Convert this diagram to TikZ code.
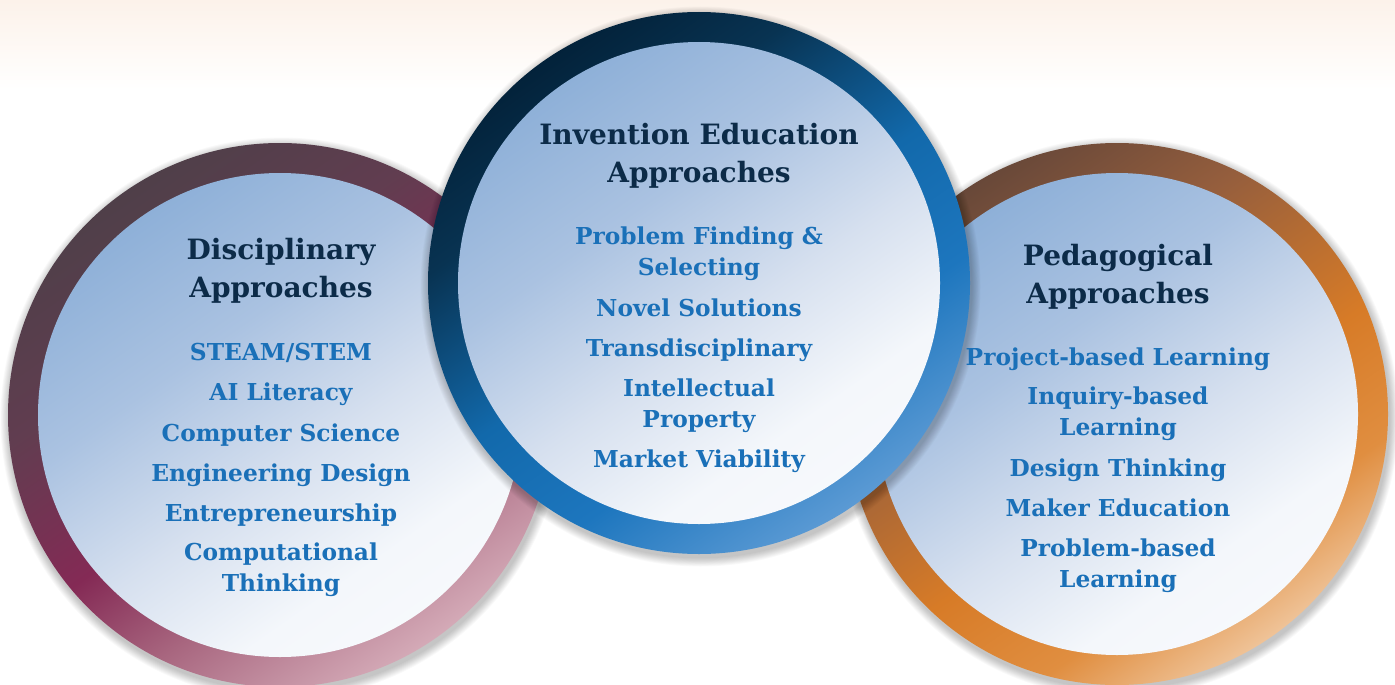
\documentclass[tikz,border=0pt]{standalone}
\usepackage{fontspec}
\setmainfont{DejaVu Serif}

% palette
\definecolor{titlenavy}{HTML}{0C2B48}
\definecolor{itemblue}{HTML}{1A70B8}
\definecolor{haze}{HTML}{FCF2EA}

\definecolor{dA}{HTML}{8AADD7}\definecolor{dB}{HTML}{8EB0D8}\definecolor{dC}{HTML}{AAC2E1}
\definecolor{dD}{HTML}{D6E0EF}\definecolor{dE}{HTML}{F4F7FB}
\definecolor{pA}{HTML}{4C3E48}\definecolor{pB}{HTML}{4F3F49}\definecolor{pC}{HTML}{613D50}
\definecolor{pD}{HTML}{842A55}\definecolor{pE}{HTML}{A8667F}\definecolor{pF}{HTML}{D4AAB7}
\definecolor{bA}{HTML}{03223A}\definecolor{bB}{HTML}{083352}\definecolor{bC}{HTML}{1269AB}
\definecolor{bD}{HTML}{1D76BE}\definecolor{bE}{HTML}{5B9AD4}
\definecolor{aA}{HTML}{684839}\definecolor{aB}{HTML}{955E3D}\definecolor{aC}{HTML}{D77B27}
\definecolor{aD}{HTML}{E08E40}\definecolor{aE}{HTML}{EFC398}

% ring and disc gradients (0bp = upper left, 100bp = lower right)
\pgfdeclarehorizontalshading{discfill}{100bp}{
  color(0bp)=(dA); color(25bp)=(dB); color(40bp)=(dC);
  color(55bp)=(dD); color(68bp)=(dE); color(100bp)=(white)}
\pgfdeclarehorizontalshading{plumring}{100bp}{
  color(0bp)=(pA); color(25bp)=(pB); color(38bp)=(pC);
  color(52bp)=(pD); color(62bp)=(pE); color(75bp)=(pF); color(100bp)=(pF)}
\pgfdeclarehorizontalshading{bluering}{100bp}{
  color(0bp)=(bA); color(25bp)=(bA); color(35bp)=(bB);
  color(50bp)=(bC); color(62bp)=(bD); color(75bp)=(bE); color(100bp)=(bE)}
\pgfdeclarehorizontalshading{amberring}{100bp}{
  color(0bp)=(aA); color(25bp)=(aA); color(38bp)=(aB);
  color(55bp)=(aC); color(66bp)=(aD); color(75bp)=(aE); color(100bp)=(aE)}

\tikzset{
  ttl/.style={font=\fontsize{28}{38}\selectfont\bfseries, text=titlenavy,
              align=center, anchor=base, inner sep=0pt},
  itm/.style={font=\fontsize{23.3}{31}\selectfont\bfseries, text=itemblue,
              align=center, anchor=base, inner sep=0pt},
  ringshade/.style={shading=#1, shading angle=-55},
  discshade/.style={shading=discfill, shading angle=-55},
}

% soft shadow, ring and disc of one circle: centre x, centre y, outer radius, ring shading
\newcommand\ringdisc[4]{%
  \foreach \k in {1,...,10}
    \fill[black, opacity=0.022] ({#1+1.5},{#2+3.5}) circle ({#3+\k*0.9});
  \shade[ringshade=#4] (#1,#2) circle (#3);
  \shade[discshade] (#1,#2) circle ({#3-30});
}

\begin{document}
\begin{tikzpicture}[x=1pt,y=-1pt]
\useasboundingbox (0,0) rectangle (1395,685);
\clip (0,0) rectangle (1395,685);
\fill[white] (0,0) rectangle (1395,685);
\shade[top color=haze, bottom color=white] (0,0) rectangle (1395,90);

% three overlapping circles, the middle one on top
\ringdisc{280}{415}{272}{plumring}
\ringdisc{1117}{414}{271}{amberring}
\ringdisc{699}{283}{271}{bluering}

% Disciplinary approaches (multi-line nodes sit on their last baseline)
\node[ttl] (disc) at (281,297) {Disciplinary\\Approaches};
\node[itm] (steam) at (281,360) {STEAM/STEM};
\node[itm] (ai) at (281,400) {AI Literacy};
\node[itm] (cs) at (281,441) {Computer Science};
\node[itm] (eng) at (281,481) {Engineering Design};
\node[itm] (entr) at (281,521) {Entrepreneurship};
\node[itm] (comp) at (281,591) {Computational\\Thinking};

% Invention education approaches
\node[ttl] (inv) at (699,182) {Invention Education\\Approaches};
\node[itm] (prob) at (699,275) {Problem Finding \&\\Selecting};
\node[itm] (novel) at (699,316) {Novel Solutions};
\node[itm] (trans) at (699,356) {Transdisciplinary};
\node[itm] (ip) at (699,427) {Intellectual\\Property};
\node[itm] (market) at (699,467) {Market Viability};

% Pedagogical approaches
\node[ttl] (ped) at (1118,303) {Pedagogical\\Approaches};
\node[itm] (pbl) at (1118,365) {Project-based Learning};
\node[itm] (ibl) at (1118,435) {Inquiry-based\\Learning};
\node[itm] (dt) at (1118,476) {Design Thinking};
\node[itm] (maker) at (1118,516) {Maker Education};
\node[itm] (prbl) at (1118,587) {Problem-based\\Learning};
\end{tikzpicture}
\end{document}
